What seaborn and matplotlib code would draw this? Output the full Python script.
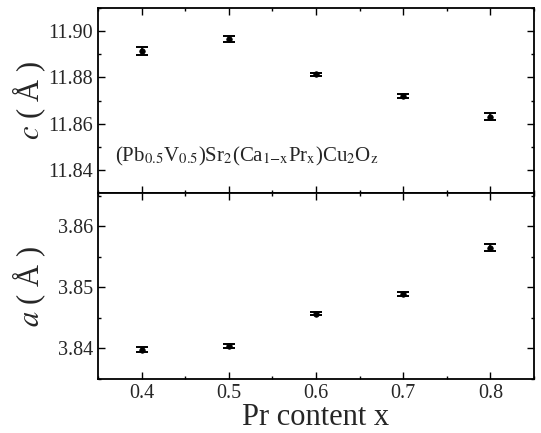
import numpy as np
import pandas as pd
import matplotlib
matplotlib.use("Agg")
import matplotlib.pyplot as plt
from matplotlib.ticker import MultipleLocator
import seaborn as sns

x_content = [0.4, 0.5, 0.6, 0.7, 0.8]
c_values = [11.8915, 11.8966, 11.8813, 11.8719, 11.8630]
c_err = [0.0016, 0.0015, 0.0008, 0.0009, 0.0015]
a_values = [3.8398, 3.8404, 3.8457, 3.8489, 3.8565]
a_err = [0.0004, 0.0004, 0.0003, 0.0004, 0.0005]

df = pd.DataFrame({"x": x_content, "c": c_values, "c_err": c_err,
                   "a": a_values, "a_err": a_err})

sns.set_style("ticks")
plt.rcParams["font.family"] = ["Liberation Serif", "DejaVu Serif"]
plt.rcParams["mathtext.fontset"] = "stix"
plt.rcParams["xtick.direction"] = "in"
plt.rcParams["ytick.direction"] = "in"

fig = plt.figure(figsize=(5.41, 4.33), dpi=100)
ax1 = fig.add_axes([0.181, 0.554, 0.806, 0.4275])
ax2 = fig.add_axes([0.181, 0.1247, 0.806, 0.4293], sharex=ax1)

for ax, col, ecol in [(ax1, "c", "c_err"), (ax2, "a", "a_err")]:
    sns.scatterplot(data=df, x="x", y=col, ax=ax, color="black", s=16,
                    edgecolor="black", linewidth=0.5, zorder=3)
    ax.errorbar(df["x"], df[col], yerr=df[ecol], fmt="none", ecolor="black",
                elinewidth=1.2, capsize=4, capthick=1.4, zorder=2)
    for s in ax.spines.values():
        s.set_linewidth(1.3)
        s.set_color("black")
    ax.tick_params(which="both", top=True, right=True, direction="in",
                   labelsize=14.5, width=1, color="black")
    ax.tick_params(which="major", length=5)
    ax.tick_params(which="minor", length=2.5)
    ax.set_xlabel("")
    ax.set_ylabel("")

ax1.set_xlim(0.35, 0.85)
ax1.xaxis.set_major_locator(MultipleLocator(0.1))
ax1.xaxis.set_minor_locator(MultipleLocator(0.05))
ax1.tick_params(labelbottom=False)

ax1.set_ylim(11.83, 11.91)
ax1.yaxis.set_minor_locator(MultipleLocator(0.01))
ax1.set_yticks([11.84, 11.86, 11.88, 11.90])
ax1.set_yticklabels(["11.84", "11.86", "11.88", "11.90"])

ax2.set_ylim(3.835, 3.8654)
ax2.set_yticks([3.84, 3.85, 3.86])
ax2.set_yticklabels(["3.84", "3.85", "3.86"])
ax2.yaxis.set_minor_locator(MultipleLocator(0.005))
ax2.set_xticks([0.4, 0.5, 0.6, 0.7, 0.8])
ax2.set_xticklabels(["0.4", "0.5", "0.6", "0.7", "0.8"])

ax1.set_ylabel("$c$ ( Å )", fontsize=22)
ax2.set_ylabel("$a$ ( Å )", fontsize=22)
ax2.set_xlabel("Pr content x", fontsize=22, labelpad=0)
ax1.yaxis.set_label_coords(-0.115, 0.5)
ax2.yaxis.set_label_coords(-0.115, 0.5)

ax1.text(0.04, 0.2,
         r"(Pb$_{0.5}$V$_{0.5}$)Sr$_2$(Ca$_{1\mathrm{-x}}$Pr$_\mathrm{x}$)Cu$_2$O$_\mathrm{z}$",
         transform=ax1.transAxes, fontsize=15, ha="left", va="center")

fig.savefig("out.png", dpi=100)
